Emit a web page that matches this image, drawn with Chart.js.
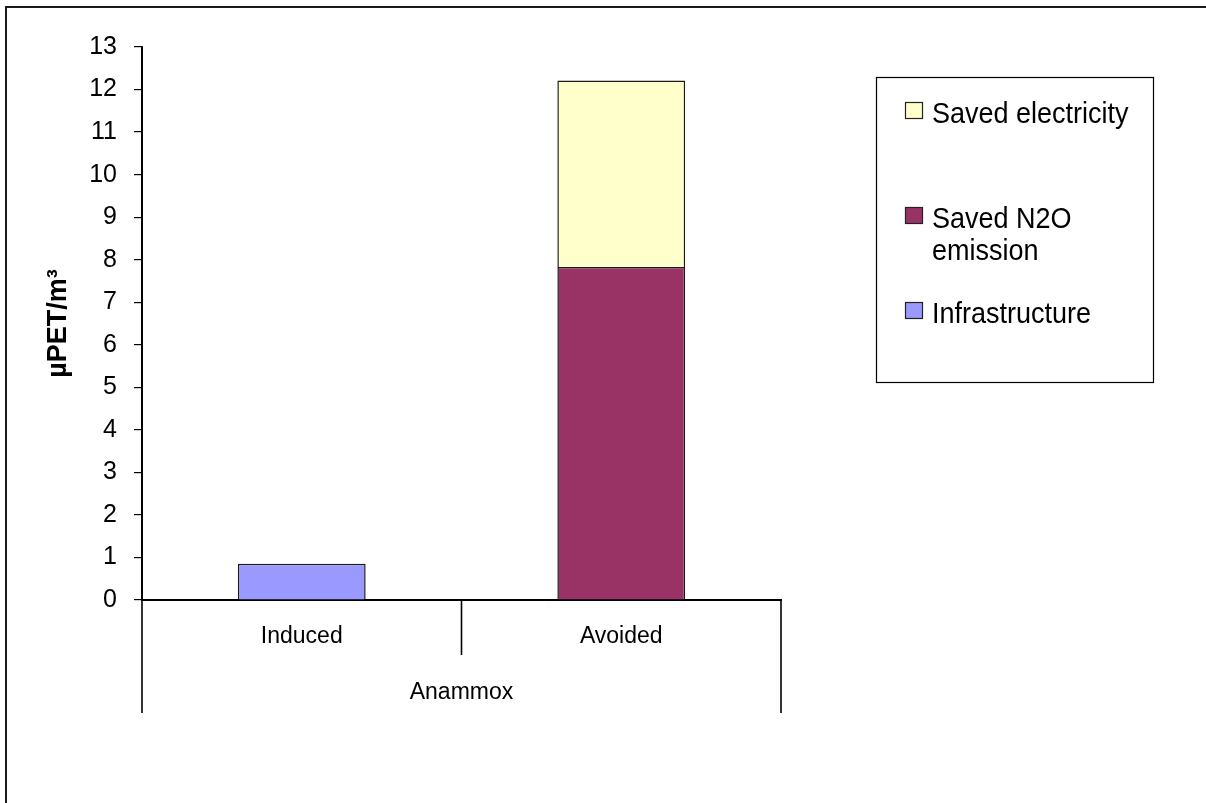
<!DOCTYPE html>
<html>
<head>
<meta charset="utf-8">
<script src="https://cdn.jsdelivr.net/npm/chart.js@4/dist/chart.umd.min.js"></script>
<style>
  html, body { margin: 0; padding: 0; background: #fff; }
  #wrap { width: 1206px; height: 803px; }
</style>
</head>
<body>
<div id="wrap"><canvas id="c" width="1206" height="803"></canvas></div>
<script>
// Categories along the x axis, and the group they belong to
const categories = ['Induced', 'Avoided'];
const groupLabel = 'Anammox';

// Stacked series (µPET per m³)
const infrastructure = [0.85, null];
const savedN2O = [null, 7.83];
const savedElectricity = [null, 4.38];

// Y axis range and title
const yMin = 0, yMax = 13, yStep = 1;
const yTitle = 'µPET/m³';

const FONT = "'Liberation Sans', Arial, sans-serif";

// Frame around the whole figure (only top and left edges fall inside the canvas)
const framePlugin = {
  id: 'frame',
  beforeDraw(chart) {
    const ctx = chart.ctx;
    ctx.save();
    ctx.fillStyle = '#fff';
    ctx.fillRect(0, 0, chart.width, chart.height);
    ctx.strokeStyle = '#1a1a1a';
    ctx.lineWidth = 2;
    ctx.beginPath();
    ctx.moveTo(6, chart.height + 5);
    ctx.lineTo(6, 7);
    ctx.lineTo(chart.width + 5, 7);
    ctx.stroke();
    ctx.restore();
  }
};

// Separators of the two-level category axis
const categoryDividers = {
  id: 'categoryDividers',
  afterDraw(chart) {
    const x = chart.scales.x;
    const ctx = chart.ctx;
    const top = chart.chartArea.bottom;
    ctx.save();
    ctx.strokeStyle = '#000';
    ctx.lineWidth = 1.6;
    const n = x.ticks.length;
    // inner boundaries between categories
    for (let i = 0; i < n - 1; i++) {
      const px = (x.getPixelForValue(i) + x.getPixelForValue(i + 1)) / 2;
      ctx.beginPath();
      ctx.moveTo(px, top);
      ctx.lineTo(px, top + 55);
      ctx.stroke();
    }
    // outer edges of the group
    [x.left, x.right].forEach(px => {
      ctx.beginPath();
      ctx.moveTo(px, top);
      ctx.lineTo(px, x.bottom);
      ctx.stroke();
    });
    ctx.restore();
  }
};

// Boxed legend on the right, listed top-down from the top of the stack
const boxLegend = {
  id: 'boxLegend',
  afterDraw(chart) {
    const ctx = chart.ctx;
    const box = { x: 876, y: 77, w: 277, h: 305 };
    ctx.save();
    ctx.strokeStyle = '#000';
    ctx.lineWidth = 1.2;
    ctx.strokeRect(box.x + 0.5, box.y + 0.5, box.w, box.h);
    const items = chart.data.datasets.slice().reverse();
    const baselines = [123, 228, 323];
    items.forEach((ds, i) => {
      const base = baselines[i];
      ctx.fillStyle = ds.backgroundColor;
      ctx.fillRect(905, base - 21, 18, 17);
      ctx.strokeStyle = '#222';
      ctx.lineWidth = 1.2;
      ctx.strokeRect(905.5, base - 20.5, 17, 16);
      ctx.fillStyle = '#000';
      ctx.font = '30px ' + FONT;
      ctx.textBaseline = 'alphabetic';
      ctx.textAlign = 'left';
      const lines = ds.legendLines || [ds.label];
      lines.forEach((t, k) => {
        // slightly condensed lettering
        ctx.save();
        ctx.translate(932, base + k * 32);
        ctx.scale(0.9, 1);
        ctx.fillText(t, 0, 0);
        ctx.restore();
      });
    });
    ctx.restore();
  }
};

new Chart(document.getElementById('c'), {
  type: 'bar',
  data: {
    labels: categories,
    datasets: [
      { label: 'Infrastructure', data: infrastructure, backgroundColor: '#9999FF',
        borderColor: '#1a1a1a', borderWidth: 1.5 },
      { label: 'Saved N2O emission', legendLines: ['Saved N2O', 'emission'], data: savedN2O,
        backgroundColor: '#993366', borderColor: '#1a1a1a', borderWidth: 1.5 },
      { label: 'Saved electricity', data: savedElectricity, backgroundColor: '#FFFFCC',
        borderColor: '#1a1a1a', borderWidth: 1.5 }
    ]
  },
  options: {
    responsive: false,
    animation: false,
    devicePixelRatio: 1,
    layout: { padding: { left: 0, top: 47, right: 1206 - 781, bottom: 803 - 713 } },
    datasets: { bar: { barPercentage: 0.4, categoryPercentage: 1, skipNull: false } },
    plugins: { legend: { display: false }, tooltip: { enabled: false } },
    scales: {
      x: {
        stacked: true,
        afterFit(s) { s.height = 113; },
        grid: { display: false, drawTicks: false },
        border: { display: true, color: '#000', width: 2 },
        ticks: { color: '#000', font: { family: FONT, size: 23 }, padding: 23 },
        title: { display: true, text: groupLabel, color: '#000',
                 font: { family: FONT, size: 23 }, padding: { top: 0, bottom: 7 } }
      },
      y: {
        stacked: true,
        min: yMin, max: yMax,
        afterFit(s) { s.width = 142; },
        grid: { drawOnChartArea: false, drawTicks: true, tickLength: 8, color: '#000', lineWidth: 1.2 },
        border: { display: true, color: '#000', width: 2 },
        ticks: { stepSize: yStep, color: '#000', font: { family: FONT, size: 25 }, padding: 17 },
        title: { display: true, text: yTitle, color: '#000',
                 font: { family: FONT, size: 27, weight: 'bold' }, padding: { top: 42, bottom: 0 } }
      }
    }
  },
  plugins: [framePlugin, categoryDividers, boxLegend]
});
</script>
</body>
</html>
